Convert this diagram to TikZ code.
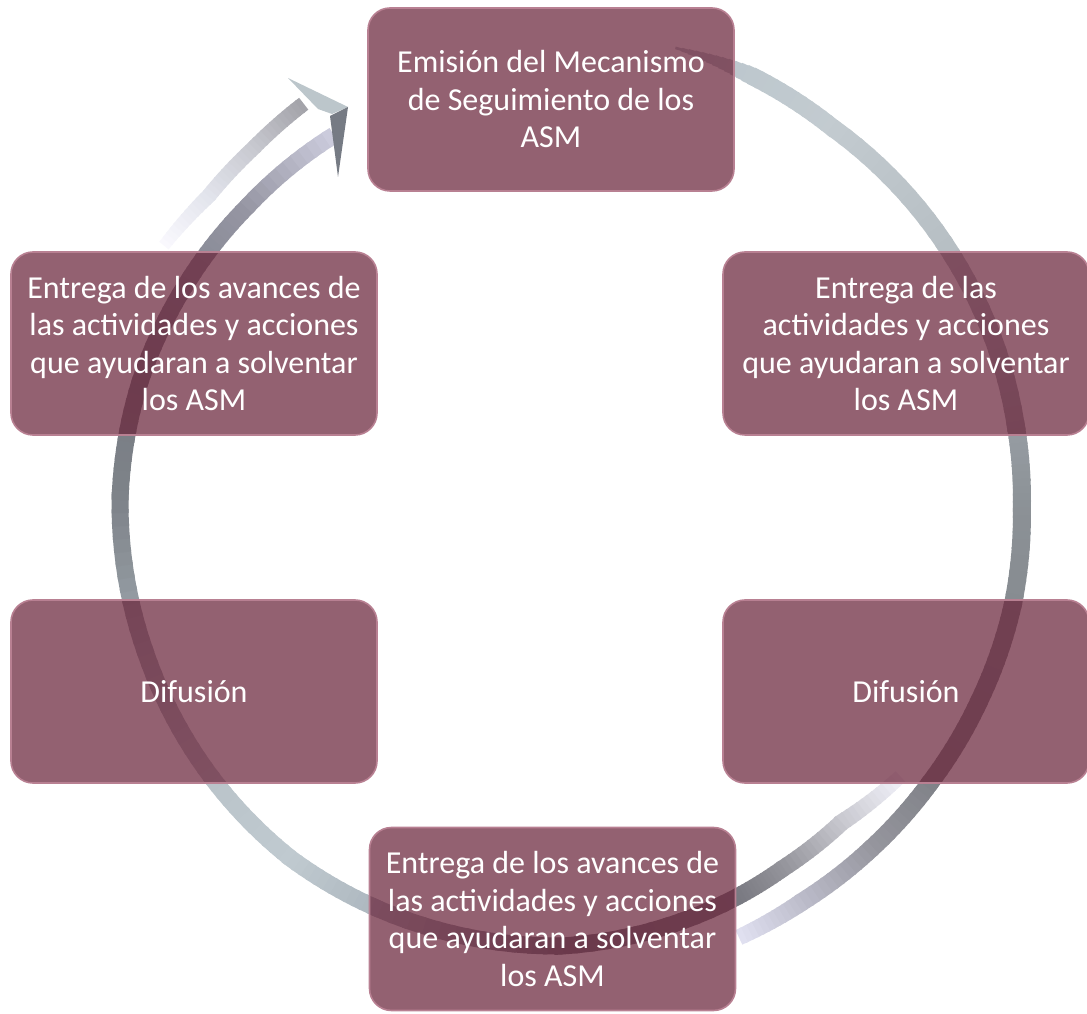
\documentclass[tikz,border=0pt]{standalone}
\usepackage{fontspec}
\setmainfont{Carlito}
\definecolor{boxfill}{RGB}{106,36,58}
\definecolor{boxrim}{RGB}{184,128,146}
% main band colours
\definecolor{pA}{RGB}{185,195,202}
\definecolor{pB}{RGB}{190,200,206}
\definecolor{pC}{RGB}{195,203,208}
\definecolor{pD}{RGB}{182,190,196}
\definecolor{pE}{RGB}{152,158,164}
\definecolor{pF}{RGB}{140,145,150}
\definecolor{pG}{RGB}{135,140,145}
\definecolor{pH}{RGB}{130,135,140}
\definecolor{pI}{RGB}{128,130,136}
\definecolor{pJ}{RGB}{150,150,158}
\definecolor{pK}{RGB}{188,188,202}
\definecolor{pL}{RGB}{225,225,242}
% second band colours
\definecolor{aA}{RGB}{242,242,250}
\definecolor{aB}{RGB}{200,200,207}
\definecolor{aC}{RGB}{148,148,155}
\definecolor{aD}{RGB}{122,122,130}
\definecolor{aE}{RGB}{112,115,122}
\definecolor{aF}{RGB}{172,182,190}
\definecolor{aG}{RGB}{192,202,208}
\definecolor{aH}{RGB}{186,196,202}
\definecolor{aI}{RGB}{160,168,175}
\definecolor{aJ}{RGB}{126,131,137}
\definecolor{aK}{RGB}{120,124,132}
\definecolor{aL}{RGB}{134,137,148}
\definecolor{aM}{RGB}{150,150,163}
\definecolor{aN}{RGB}{205,205,222}
% outer band colours
\definecolor{oA}{RGB}{250,249,254}
\definecolor{oB}{RGB}{226,228,236}
\definecolor{oC}{RGB}{200,201,208}
\definecolor{oD}{RGB}{162,162,168}
\definecolor{headlight}{RGB}{188,198,203}
\definecolor{headdark}{RGB}{118,123,132}

% #1 th0, #2 th1, #3 r0, #4 r1, #5 col0, #6 col1, #7 w0, #8 w1, #9 end overlap
\newcommand\ringseg[9]{%
  \foreach \i in {0,...,11}{%
    \pgfmathsetmacro\ov{ifthenelse(\i<11,1.3,1+#9)}%
    \pgfmathsetmacro\tA{#1+(#2-#1)*\i/12}%
    \pgfmathsetmacro\tB{#1+(#2-#1)*(\i+\ov)/12}%
    \pgfmathsetmacro\rA{#3+(#4-#3)*\i/12}%
    \pgfmathsetmacro\rB{#3+(#4-#3)*(\i+\ov)/12}%
    \pgfmathsetmacro\wW{#7+(#8-#7)*(\i+0.5)/12}%
    \pgfmathtruncatemacro\pp{100-100*(\i+0.5)/12}%
    \draw[line width=\wW pt, color=#5!\pp!#6]
      plot[domain=\tA:\tB, samples=6] (\x:{\rA+(\rB-\rA)*(\x-\tA)/(\tB-\tA)});
  }%
}

\tikzset{
  box/.style={draw=boxrim, line width=1.6pt, fill=boxfill, fill opacity=0.72,
    text opacity=1, text=white, rounded corners=22pt,
    minimum width=366pt, minimum height=183pt, align=center, inner sep=0pt,
    font=\fontsize{32}{37.5}\selectfont}
}

\begin{document}
\begin{tikzpicture}[x=1pt,y=1pt]
\useasboundingbox (0,0) rectangle (1087,1013);

\begin{scope}[shift={(571,513)}]
  % main band (tail at top, clockwise to bottom right)
  \ringseg{77}{67}{464}{461}{pA}{pB}{2}{18}{0.6}
  \ringseg{67}{55}{461}{455}{pB}{pC}{18}{18}{0.6}
  \ringseg{55}{33}{455}{453}{pC}{pD}{18}{18}{0.6}
  \ringseg{33}{10}{453}{451}{pD}{pE}{18}{18}{0.6}
  \ringseg{10}{-1}{451}{451}{pE}{pF}{18}{18}{0.6}
  \ringseg{-1}{-13}{451}{454}{pF}{pG}{18}{18}{0.6}
  \ringseg{-13}{-26}{454}{455}{pG}{pH}{18}{18}{0.6}
  \ringseg{-26}{-38}{455}{457}{pH}{pI}{18}{18}{0.6}
  \ringseg{-38}{-49}{457}{460}{pI}{pJ}{18}{18}{0.6}
  \ringseg{-49}{-60}{460}{463.5}{pJ}{pK}{18}{18}{0.6}
  \ringseg{-60}{-69}{463.5}{468.5}{pK}{pL}{18}{16}{0}
  % second band (bottom right, round the left, to the arrow head)
  \ringseg{-40}{-50}{430}{421}{aA}{aB}{14}{17}{0.6}
  \ringseg{-50}{-60}{421}{425}{aB}{aC}{17}{17}{0.6}
  \ringseg{-60}{-67}{425}{430}{aC}{aD}{17}{17}{0.6}
  \ringseg{-67}{-91}{430}{446}{aD}{aE}{17}{17}{0.6}
  \ringseg{-91}{-115}{446}{452}{aE}{aF}{17}{17}{0.6}
  \ringseg{-115}{-128}{452}{455}{aF}{aG}{17}{17}{0.6}
  \ringseg{-128}{-142}{455}{454}{aG}{aH}{17}{17}{0.6}
  \ringseg{-142}{-160}{454}{452}{aH}{aI}{17}{17}{0.6}
  \ringseg{-160}{-180}{452}{451}{aI}{aJ}{17}{17}{0.6}
  \ringseg{-180}{-195}{451}{447}{aJ}{aK}{17}{17}{0.6}
  \ringseg{-195}{-210}{447}{441}{aK}{aL}{17}{17}{0.6}
  \ringseg{-210}{-222}{441}{437}{aL}{aM}{17}{17}{0.6}
  \ringseg{-222}{-237}{437}{435}{aM}{aN}{17}{17}{0}
  % outer edge near the arrow head
  \ringseg{148}{140}{480}{473}{oA}{oB}{12}{15}{0.6}
  \ringseg{140}{132}{473}{474}{oB}{oC}{15}{15}{0.6}
  \ringseg{132}{124}{474}{478}{oC}{oD}{15}{15}{0}
\end{scope}

% arrow head
\fill[headlight] (288,935) -- (348,906) -- (332,899) -- (318,904) -- cycle;
\fill[headdark] (348,906) -- (338,836) -- (330,897) -- cycle;

% boxes
\node[box] (n1) at (551,913.5) {Emisión del Mecanismo\\de Seguimiento de los\\ASM};
\node[box] (n2) at (906,669.5) {Entrega de las\\actividades y acciones\\que ayudaran a solventar\\los ASM};
\node[box] (n3) at (906,321.5) {Difusión};
\node[box] (n4) at (552.5,94) {Entrega de los avances de\\las actividades y acciones\\que ayudaran a solventar\\los ASM};
\node[box] (n5) at (194,321.5) {Difusión};
\node[box] (n6) at (194,669.5) {Entrega de los avances de\\las actividades y acciones\\que ayudaran a solventar\\los ASM};
\end{tikzpicture}
\end{document}
